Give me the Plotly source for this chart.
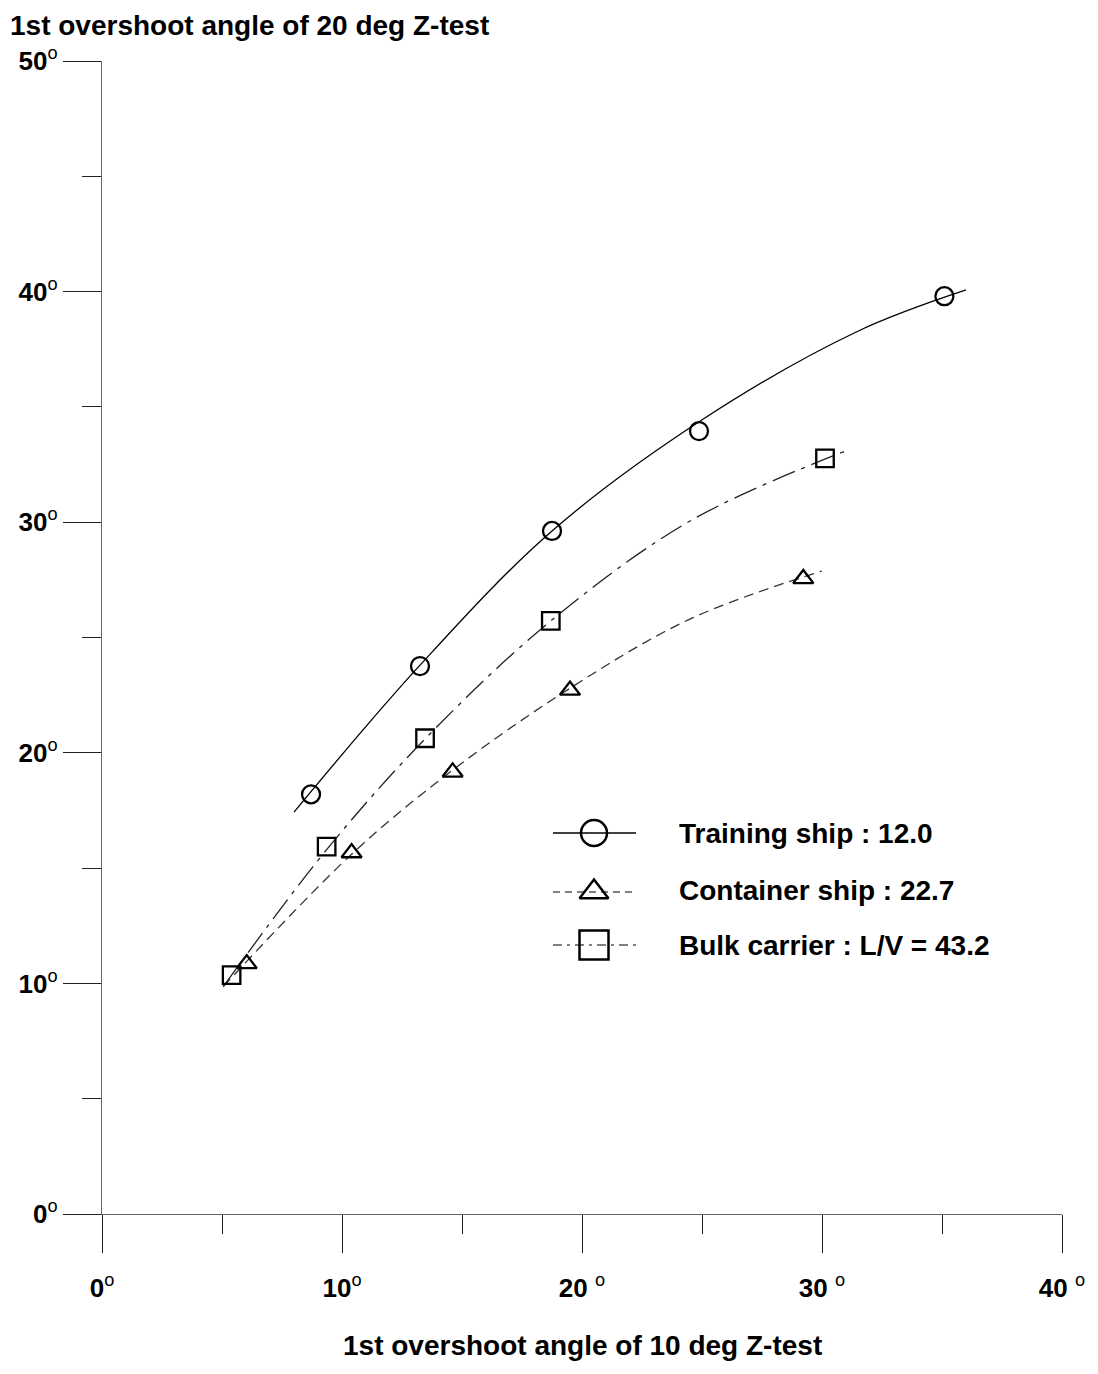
import plotly.graph_objects as go

# ---------------- data ----------------
# Measured points
TRAIN_X = [8.71, 13.25, 18.75, 24.875, 35.1]
TRAIN_Y = [18.2, 23.76, 29.62, 33.95, 39.8]
CONT_X = [6.03, 10.40, 14.61, 19.5, 29.22]
CONT_Y = [10.85, 15.66, 19.16, 22.71, 27.55]
BULK_X = [5.4, 9.36, 13.46, 18.7, 30.125]
BULK_Y = [10.36, 15.93, 20.63, 25.72, 32.77]

# Fitted curves (as drawn in the reference)
TRAIN_CX = [8.0, 13.25, 18.75, 24.99, 31.45, 36.0]
TRAIN_CY = [17.43, 23.8, 29.62, 34.43, 38.26, 40.07]
CONT_CX = [5.05, 10.40, 14.61, 19.5, 24.5, 29.99]
CONT_CY = [9.86, 15.6, 19.25, 22.8, 25.8, 27.88]
BULK_CX = [5.05, 9.36, 13.46, 18.7, 24.5, 30.96]
BULK_CY = [9.86, 15.8, 20.6, 25.72, 30.05, 33.08]

X_TICKS = [0, 10, 20, 30, 40]
X_TICK_LABELS = ["0", "10", "20 ", "30 ", "40 "]
Y_TICKS = [0, 10, 20, 30, 40, 50]
Y_TICK_LABELS = ["0", "10", "20", "30", "40", "50"]

LEGEND_LABELS = ["Training ship : 12.0", "Container ship : 22.7", "Bulk carrier : L/V = 43.2"]

TITLE_Y = "1st overshoot angle of 20 deg Z-test"
TITLE_X = "1st overshoot angle of 10 deg Z-test"

# ---------------- layout constants ----------------
W, H = 1098, 1374
OFF = 8  # page body margin offset
L, R, T, B = 102 - OFF, 1062 - OFF, 61 - OFF, 1214 - OFF
FONT = "Liberation Sans"
BLACK = "#000000"
AXIS_COLOR = "#666666"

DEG = "<sup><span style='font-weight:normal'>o</span></sup>"


def py2paper(py):
    return (B - (py - OFF)) / (B - T)


STYLES = [
    dict(symbol="circle-open", dash="solid", ldash="solid", size=18, lsize=26, color=BLACK),
    dict(symbol="triangle-up-open", dash="10px,6px", ldash="7px,5px", size=17.5, lsize=25, color="#333333"),
    dict(symbol="square-open", dash="24px,7px,4px,7px", ldash="9px,5px,3px,5px", size=17.5, lsize=29, color="#222222"),
]

fig = go.Figure()

series = [
    (TRAIN_CX, TRAIN_CY, TRAIN_X, TRAIN_Y),
    (CONT_CX, CONT_CY, CONT_X, CONT_Y),
    (BULK_CX, BULK_CY, BULK_X, BULK_Y),
]

for (cx, cy, mx, my), st in zip(series, STYLES):
    fig.add_trace(go.Scatter(
        x=cx, y=cy, mode="lines",
        line=dict(color=st["color"], width=1.3, dash=st["dash"], shape="spline", smoothing=1.0),
        showlegend=False, hoverinfo="skip",
    ))
    fig.add_trace(go.Scatter(
        x=mx, y=my, mode="markers",
        marker=dict(symbol=st["symbol"], size=st["size"], color=BLACK,
                    line=dict(color=BLACK, width=2.3)),
        showlegend=False,
    ))

# ---------------- manual legend (pixel-unit overlay axes, reference page pixels) ----------------
LEG_LINE_X0, LEG_LINE_X1, LEG_MARK_X, LEG_TEXT_X = 553, 636, 594, 677
LEG_ROWS_Y = [833, 892, 945]
LEG_TEXT_Y = [833, 890, 945]

for label, st, ly, ty in zip(LEGEND_LABELS, STYLES, LEG_ROWS_Y, LEG_TEXT_Y):
    lcol = BLACK if st["dash"] == "solid" else "#555555"
    fig.add_trace(go.Scatter(
        x=[LEG_LINE_X0, LEG_LINE_X1], y=[ly, ly], mode="lines",
        line=dict(color=lcol, width=1.3, dash=st["ldash"]),
        xaxis="x2", yaxis="y2", showlegend=False, hoverinfo="skip",
    ))
    fig.add_trace(go.Scatter(
        x=[LEG_MARK_X], y=[ly], mode="markers",
        marker=dict(symbol=st["symbol"], size=st["lsize"], color=BLACK,
                    line=dict(color=BLACK, width=2.5)),
        xaxis="x2", yaxis="y2", showlegend=False, hoverinfo="skip",
    ))
    fig.add_annotation(
        x=LEG_TEXT_X, y=ty, xref="x2", yref="y2", text=label, showarrow=False,
        xanchor="left", yanchor="middle",
        font=dict(family=FONT, size=28, color=BLACK, weight="bold"),
    )

# x-axis title
fig.add_annotation(
    x=0.5, y=py2paper(1346), xref="paper", yref="paper", text=TITLE_X,
    showarrow=False, xanchor="center", yanchor="middle",
    font=dict(family=FONT, size=28, color=BLACK, weight="bold"),
)

tick_font = dict(family=FONT, size=26, color=BLACK, weight="bold")

fig.update_layout(
    width=W, height=H,
    margin=dict(l=L, r=W - R, t=T, b=H - B, autoexpand=False),
    paper_bgcolor="white", plot_bgcolor="white",
    showlegend=False,
    title=dict(
        text=TITLE_Y, x=(10 - OFF) / W, y=1 - (25 - OFF) / H, xref="container", yref="container",
        xanchor="left", yanchor="middle",
        font=dict(family=FONT, size=28, color=BLACK, weight="bold"),
    ),
    xaxis=dict(
        range=[0, 40], showgrid=False, zeroline=False,
        showline=True, linecolor=AXIS_COLOR, linewidth=1.3,
        tickvals=X_TICKS, ticktext=[t + DEG for t in X_TICK_LABELS],
        ticks="outside", ticklen=38, tickwidth=1.2, tickcolor="#222222",
        minor=dict(dtick=5, tick0=0, ticks="outside", ticklen=19, tickwidth=1.2, tickcolor="#222222"),
        tickfont=tick_font, ticklabelstandoff=13, fixedrange=True,
    ),
    yaxis=dict(
        range=[0, 50], showgrid=False, zeroline=False,
        showline=True, linecolor=AXIS_COLOR, linewidth=1.3,
        tickvals=Y_TICKS, ticktext=[t + DEG for t in Y_TICK_LABELS],
        ticks="outside", ticklen=38, tickwidth=1.2, tickcolor="#222222",
        minor=dict(dtick=5, tick0=0, ticks="outside", ticklen=19, tickwidth=1.2, tickcolor="#222222"),
        tickfont=tick_font, ticklabelstandoff=0, fixedrange=True,
    ),
    xaxis2=dict(overlaying="x", range=[102, 1062], visible=False, fixedrange=True),
    yaxis2=dict(overlaying="y", range=[1214, 61], visible=False, fixedrange=True),
)

fig.write_html("out.html")
